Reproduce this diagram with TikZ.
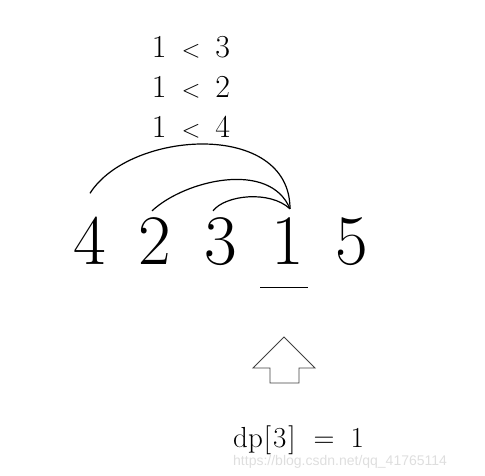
\documentclass[tikz,border=0pt]{standalone}
\usepackage{fontspec}
\newfontfamily\markfont{Liberation Sans}
\tikzset{
  digit/.style={inner sep=0pt, anchor=base, font=\fontsize{71}{71}\selectfont},
  cmp/.style={inner sep=0pt, anchor=base, font=\fontsize{32}{32}\selectfont},
  link/.style={line width=1.2pt},
}
\begin{document}
\begin{tikzpicture}[x=1pt,y=-1pt]
     \useasboundingbox (0,0) rectangle (485,476);
     % comparisons
     \foreach \r [count=\i] in {3,2,4}
       \node[cmp] (c\i) at (191,{18+40*\i}) {1\ \,$<$\ \,\r};
     % sequence
     \foreach \v/\x in {4/90,2/155,3/221,1/288,5/352}
       \node[digit] (n\v) at (\x,265) {\v};
     \draw[link] ([yshift=24pt]n4.north) .. controls (130,130) and (290,120) .. ([xshift=2pt,yshift=9pt]n1.north);
     \draw[link] ([xshift=-3pt,yshift=7pt]n2.north) .. controls (185,180) and (270,160) .. ([xshift=2pt,yshift=9pt]n1.north);
     \draw[link] ([xshift=-8pt,yshift=7pt]n3.north) .. controls (225,195) and (270,190) .. ([xshift=2pt,yshift=9pt]n1.north);
     \draw[link] ([xshift=-28pt,yshift=-22pt]n1.south) -- ++(48,0);
     % up arrow
     \draw[line width=0.9pt, black!75] (284,337) -- (315,368) -- (299,368) -- (299,383)
        -- (270,383) -- (270,368) -- (253,368) -- cycle;
     \node[inner sep=0pt, anchor=base west, font=\fontsize{29}{29}\selectfont] (res) at (233,447)
        {dp\hspace{1pt}[\hspace{2pt}3\hspace{2pt}]\hspace{18pt}=\hspace{16pt}1};
     \node[inner sep=0pt, anchor=base west, text=black!13, font=\markfont\fontsize{14}{14}\selectfont] (wm) at (233,465) {https://blog.csdn.net/qq\_41765114};
\end{tikzpicture}
\end{document}
